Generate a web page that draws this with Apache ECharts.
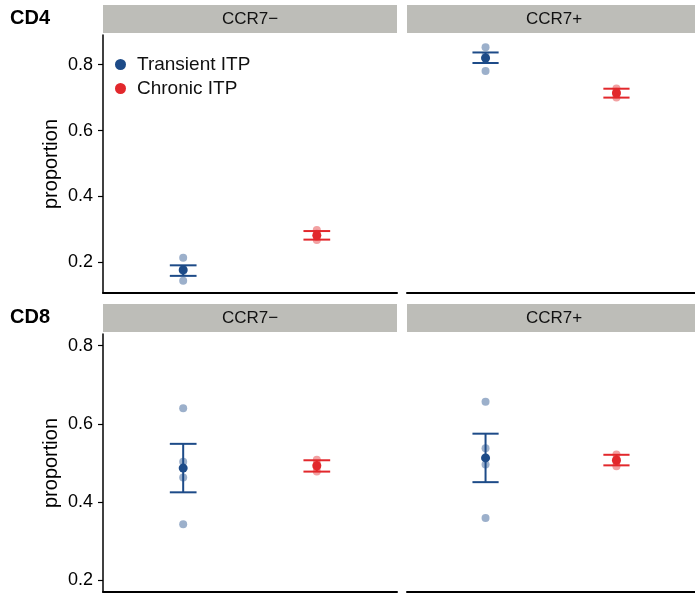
<!DOCTYPE html>
<html>
<head>
<meta charset="utf-8">
<script src="https://cdn.jsdelivr.net/npm/echarts@6/dist/echarts.min.js"></script>
<style>
  html, body { margin: 0; padding: 0; background: #fff; }
  #main { width: 695px; height: 595px; }
</style>
</head>
<body>
<div id="main"></div>
<script>
/*数据源 - 面板顺序: CD4 CCR7−, CD4 CCR7+, CD8 CCR7−, CD8 CCR7+*/
const groups = ['Transient ITP', 'Chronic ITP'];
const rows = ['CD4', 'CD8'];
const strips = ['CCR7−', 'CCR7+'];
const yTicks = [0.2, 0.4, 0.6, 0.8];

/*各个样本点*/
const transientPts = [
    [0.214, 0.180, 0.174, 0.144],
    [0.853, 0.826, 0.820, 0.781],
    [0.640, 0.503, 0.463, 0.343],
    [0.657, 0.538, 0.496, 0.359]
];
const chronicPts = [
    [0.298, 0.287, 0.278, 0.268],
    [0.728, 0.718, 0.710, 0.700],
    [0.508, 0.497, 0.489, 0.478],
    [0.522, 0.510, 0.503, 0.492]
];

/*均值 与 误差线 (mean ± se)*/
const transientMean = [0.177, 0.820, 0.487, 0.513];
const transientLow = [0.159, 0.805, 0.425, 0.451];
const transientHigh = [0.191, 0.837, 0.549, 0.575];
const chronicMean = [0.282, 0.714, 0.493, 0.507];
const chronicLow = [0.269, 0.700, 0.478, 0.494];
const chronicHigh = [0.295, 0.727, 0.507, 0.521];

const blue = '#1d4b88';
const red = '#e2282c';
const blueA = 'rgba(29,75,136,0.55)';
const redA = 'rgba(226,40,44,0.55)';
const font = 'Liberation Sans, Arial, sans-serif';

const gridLeft = [103, 407];
const gridTop = [35, 334];
const gridW = 294, gridH = 258;
const yRange = [[0.107, 0.890], [0.170, 0.830]];

const chart = echarts.init(document.getElementById('main'));

const grid = [], xAxis = [], yAxis = [], series = [], graphic = [];

/*误差线*/
function errorBar(color) {
    return function (params, api) {
        const x = api.value(0);
        const lo = api.value(1), hi = api.value(2);
        const a = api.coord([x, lo]), b = api.coord([x, hi]);
        const l1 = api.coord([x - 0.1, hi]), r1 = api.coord([x + 0.1, hi]);
        const l2 = api.coord([x - 0.1, lo]), r2 = api.coord([x + 0.1, lo]);
        const st = { stroke: color, lineWidth: 2 };
        return {
            type: 'group',
            children: [
                { type: 'line', shape: { x1: a[0], y1: a[1], x2: b[0], y2: b[1] }, style: st },
                { type: 'line', shape: { x1: l1[0], y1: l1[1], x2: r1[0], y2: r1[1] }, style: st },
                { type: 'line', shape: { x1: l2[0], y1: l2[1], x2: r2[0], y2: r2[1] }, style: st }
            ]
        };
    };
}

for (let p = 0; p < 4; p++) {
    const r = Math.floor(p / 2), c = p % 2;
    grid.push({ left: gridLeft[c], top: gridTop[r], width: gridW, height: gridH });
    xAxis.push({
        gridIndex: p, type: 'value', min: 0.4, max: 2.6,
        axisLine: { show: true, onZero: false, lineStyle: { color: '#000', width: 2 } },
        axisTick: { show: false }, axisLabel: { show: false }, splitLine: { show: false }
    });
    yAxis.push({
        gridIndex: p, type: 'value', min: yRange[r][0], max: yRange[r][1],
        name: c === 0 ? 'proportion' : '',
        nameLocation: 'middle', nameGap: 42, nameRotate: 90,
        nameTextStyle: { fontFamily: font, fontSize: 20, color: '#000' },
        axisLine: { show: c === 0, lineStyle: { color: '#000', width: 1.5 } },
        axisTick: { show: c === 0, length: 5, customValues: yTicks, lineStyle: { color: '#000', width: 1.2 } },
        axisLabel: { show: c === 0, customValues: yTicks, fontFamily: font, fontSize: 18, color: '#000', margin: 10 },
        splitLine: { show: false }
    });

    series.push({
        type: 'custom', xAxisIndex: p, yAxisIndex: p, z: 2,
        renderItem: errorBar(blue),
        data: [[1, transientLow[p], transientHigh[p]]]
    });
    series.push({
        type: 'custom', xAxisIndex: p, yAxisIndex: p, z: 2,
        renderItem: errorBar(red),
        data: [[2, chronicLow[p], chronicHigh[p]]]
    });
    series.push({
        name: 'Transient ITP', type: 'scatter', xAxisIndex: p, yAxisIndex: p, z: 4,
        symbolSize: 9, itemStyle: { color: blue, opacity: 1 },
        data: [[1, transientMean[p]]]
    });
    series.push({
        name: 'Chronic ITP', type: 'scatter', xAxisIndex: p, yAxisIndex: p, z: 4,
        symbolSize: 9, itemStyle: { color: red, opacity: 1 },
        data: [[2, chronicMean[p]]]
    });
    series.push({
        name: 'Transient pts', type: 'scatter', xAxisIndex: p, yAxisIndex: p, z: 3,
        symbolSize: 8, itemStyle: { color: blueA },
        data: transientPts[p].map(v => [1, v])
    });
    series.push({
        name: 'Chronic pts', type: 'scatter', xAxisIndex: p, yAxisIndex: p, z: 3,
        symbolSize: 8, itemStyle: { color: redA },
        data: chronicPts[p].map(v => [2, v])
    });

    /*分面标题条*/
    graphic.push({
        type: 'rect', left: gridLeft[c], top: gridTop[r] - 30,
        shape: { width: c === 0 ? gridW : 695 - gridLeft[c], height: 28 },
        style: { fill: '#bdbdb8' }
    });
    graphic.push({
        type: 'text', x: gridLeft[c] + gridW / 2, y: gridTop[r] - 16,
        style: { text: strips[c], fontFamily: font, fontSize: 17, fill: '#111', align: 'center', verticalAlign: 'middle' }
    });
}

rows.forEach((t, r) => {
    graphic.push({
        type: 'text', x: 10, y: gridTop[r] - 17,
        style: { text: t, fontFamily: font, fontSize: 20, fontWeight: 'bold', fill: '#000', verticalAlign: 'middle' }
    });
});

const option = {
    animation: false,
    grid, xAxis, yAxis, series, graphic,
    legend: {
        data: groups,
        orient: 'vertical', left: 110, top: 50, itemGap: 5,
        icon: 'circle', itemWidth: 11, itemHeight: 11,
        textStyle: { fontFamily: font, fontSize: 19, color: '#111', padding: [0, 0, 0, 6] }
    }
};

chart.setOption(option);
</script>
</body>
</html>
